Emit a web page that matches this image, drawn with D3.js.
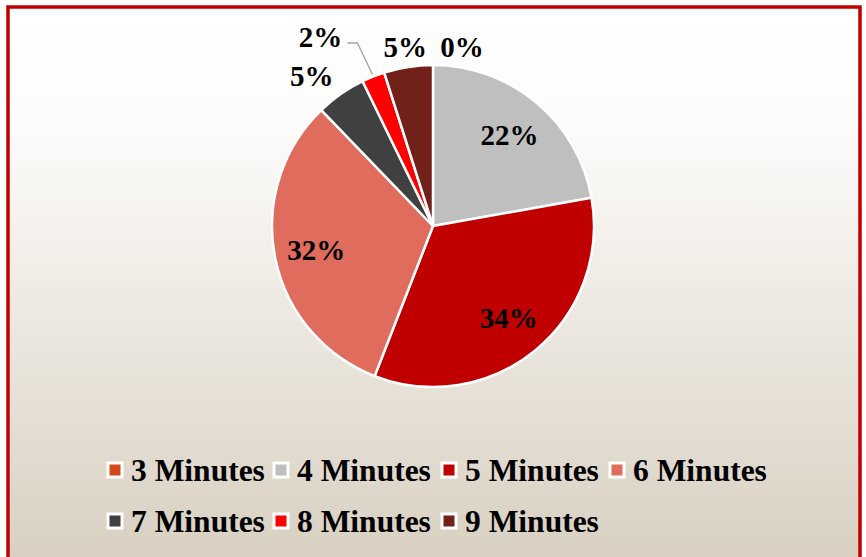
<!DOCTYPE html>
<html>
<head>
<meta charset="utf-8">
<script src="https://cdn.jsdelivr.net/npm/d3@7"></script>
<style>
html,body{margin:0;padding:0;background:#fff;}
svg{display:block;}
</style>
</head>
<body>
<svg id="chart" width="866" height="557"></svg>
<script>
const categories = ["3 Minutes","4 Minutes","5 Minutes","6 Minutes","7 Minutes","8 Minutes","9 Minutes"];
const values = [0, 22.2, 33.7, 31.9, 5.0, 2.3, 4.9];
const colors = ["#D24A1A","#BFBFBF","#C00000","#E06C5E","#404040","#FF0000","#72211A"];

const W = 866, H = 557;
const svg = d3.select("#chart");
const defs = svg.append("defs");
const grad = defs.append("linearGradient").attr("id","bg").attr("x1",0).attr("y1",0).attr("x2",0).attr("y2",1);
grad.append("stop").attr("offset","0%").attr("stop-color","#ffffff");
grad.append("stop").attr("offset","20%").attr("stop-color","#fdfcfb");
grad.append("stop").attr("offset","100%").attr("stop-color","#d7cebe");

svg.append("rect").attr("x",8).attr("y",7).attr("width",852).attr("height",570)
  .attr("fill","url(#bg)").attr("stroke","#C00000").attr("stroke-width",3.5);

const cx = 433, cy = 226, r = 161;
const g = svg.append("g").attr("transform",`translate(${cx},${cy})`);
const pie = d3.pie().sort(null).value(d => d.v);
const data = categories.map((c,i)=>({c, v: values[i], col: colors[i]}));
const arcs = pie(data);
const arc = d3.arc().innerRadius(0).outerRadius(r);

g.selectAll("path.slice").data(arcs).enter().append("path")
  .attr("class","slice")
  .attr("d", arc)
  .attr("fill", d => d.data.col)
  .attr("stroke","#fff").attr("stroke-width",2.5).attr("stroke-linejoin","round");

const pct = d => Math.round(d.data.v) + "%";
const font = "'Liberation Serif','Times New Roman',serif";

// label layout: inside for big slices, outside for small
const outsideAdjust = { "7 Minutes": {da: -4, rr: 193}, "8 Minutes": {da: -9, rr: 220, leader:true}, "9 Minutes": {da: 0, rr: 181}, "3 Minutes": {da: 9.2, rr: 181} };
arcs.forEach(d => {
  const mid = (d.startAngle + d.endAngle)/2;
  let ang = mid, rr = r*0.74;
  const adj = outsideAdjust[d.data.c];
  if (adj) { ang = mid + adj.da*Math.PI/180; rr = adj.rr; }
  const x = Math.sin(ang)*rr, y = -Math.cos(ang)*rr;
  g.append("text").attr("x",x).attr("y",y).attr("dy","0.35em")
    .attr("text-anchor","middle")
    .attr("font-family",font).attr("font-weight","bold").attr("font-size","29px")
    .attr("fill","#000").text(pct(d));
  if (adj && adj.leader) {
    const ex = Math.sin(mid)*(r+2), ey = -Math.cos(mid)*(r+2);
    const lx = x + 27, ly = y + 6;
    g.append("path").attr("d", `M${lx},${ly}L${lx+10},${ly}L${ex},${ey}`)
      .attr("fill","none").attr("stroke","#A6A6A6").attr("stroke-width",1.3);
  }
});

// legend
const legendPos = [[108,470],[274,470],[442,470],[610,470],[108,521],[274,521],[442,521]];
const lg = svg.append("g");
data.forEach((d,i)=>{
  const [x,y] = legendPos[i];
  lg.append("rect").attr("x",x).attr("y",y-7).attr("width",14).attr("height",14)
    .attr("fill",d.col).attr("stroke","#fff").attr("stroke-width",3);
  lg.append("text").attr("x",x+23).attr("y",y).attr("dy","0.35em")
    .attr("font-family",font).attr("font-weight","bold").attr("font-size","31.5px")
    .attr("fill","#000").text(d.c);
});
</script>
</body>
</html>
